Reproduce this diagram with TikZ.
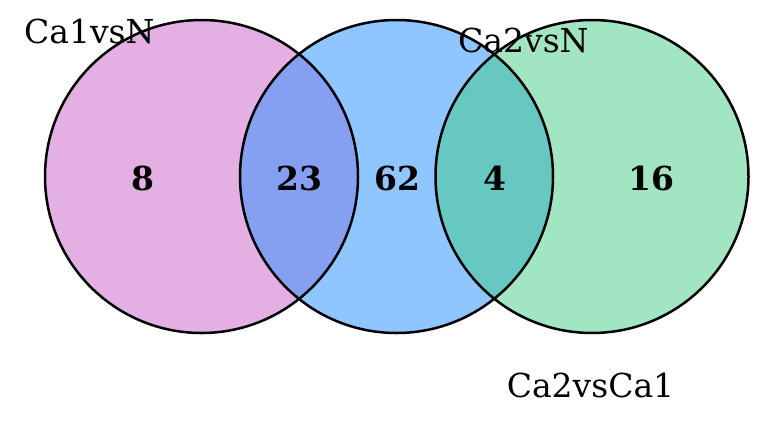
\documentclass[tikz,border=0pt]{standalone}
\usepackage{fontspec}
\setmainfont{DejaVu Serif}
\definecolor{cA}{RGB}{228,176,228}
\definecolor{cB}{RGB}{143,198,255}
\definecolor{cC}{RGB}{162,229,194}
\definecolor{cAB}{RGB}{133,160,240}
\definecolor{cBC}{RGB}{102,200,192}
\tikzset{
  setlabel/.style={inner sep=0pt, font=\fontsize{33}{40}\selectfont},
  countlabel/.style={inner sep=0pt, anchor=base, font=\fontsize{33}{40}\selectfont\bfseries},
  ring/.style={draw=black, line width=2.5pt}
}
\begin{document}
\begin{tikzpicture}[x=1pt,y=-1pt]
\useasboundingbox (0,0) rectangle (760,421);
\coordinate (A) at (201.5,176.5);
\coordinate (B) at (396.5,176.5);
\coordinate (C) at (592,176.5);
\def\R{156.5}
\fill[cA] (A) circle (\R);
\fill[cB] (B) circle (\R);
\fill[cC] (C) circle (\R);
\begin{scope}
  \clip (A) circle (\R);
  \fill[cAB] (B) circle (\R);
\end{scope}
\begin{scope}
  \clip (C) circle (\R);
  \fill[cBC] (B) circle (\R);
\end{scope}
\draw[ring] (A) circle (\R);
\draw[ring] (B) circle (\R);
\draw[ring] (C) circle (\R);
\node[setlabel, anchor=base west] (la) at (24,43) {Ca1vsN};
\node[setlabel, anchor=base west] (lb) at (458,52.5) {Ca2vsN};
\node[setlabel, anchor=base] (lc) at (590.5,397) {Ca2vsCa1};
\node[countlabel] (n1) at (143,190) {8};
\node[countlabel] (n2) at (299.5,190) {23};
\node[countlabel] (n3) at (397,190) {62};
\node[countlabel] (n4) at (494.5,190) {4};
\node[countlabel] (n5) at (651.5,190) {16};
\end{tikzpicture}
\end{document}
